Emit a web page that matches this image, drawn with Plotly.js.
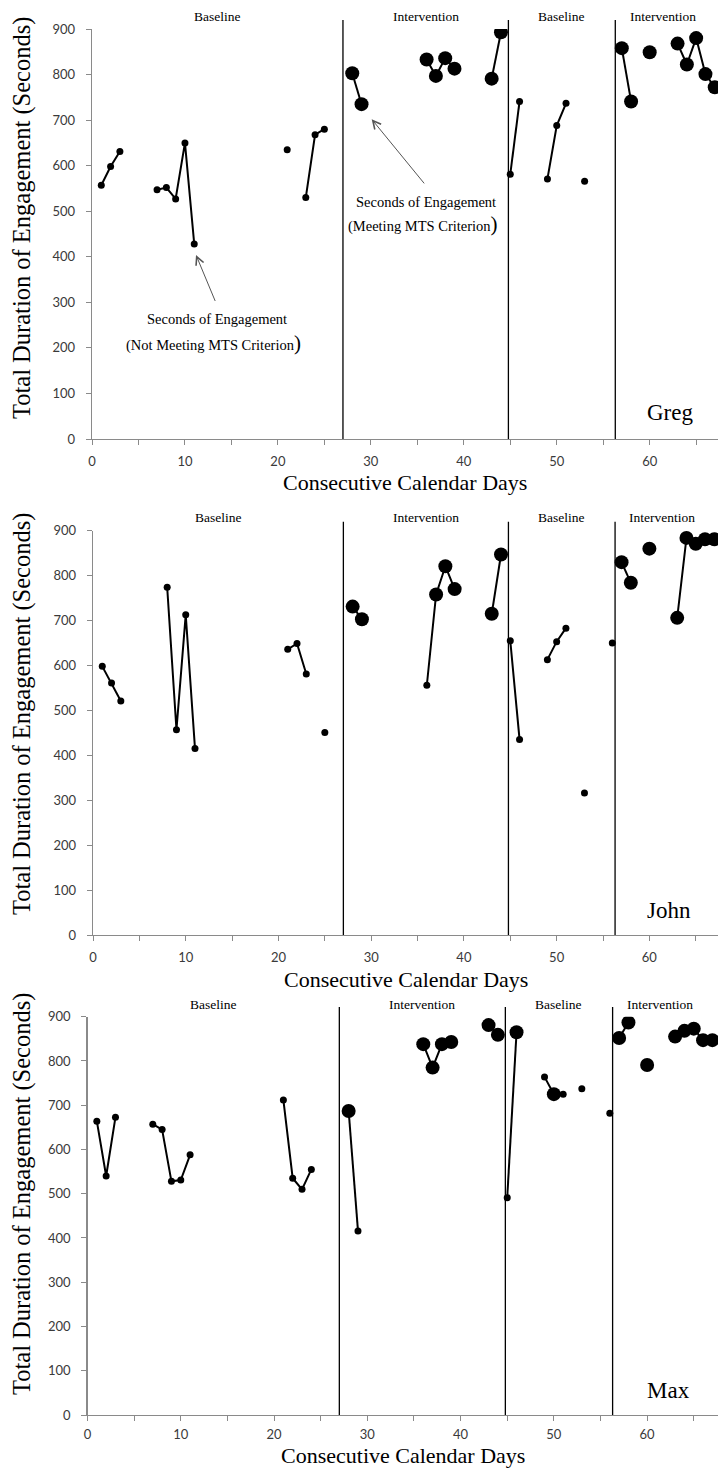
<!DOCTYPE html>
<html><head><meta charset="utf-8">
<script src="https://cdn.plot.ly/plotly-3.0.1.min.js"></script>
<style>html,body{margin:0;padding:0;background:#fff;} #chart{width:718px;height:1469px;}</style>
</head><body><div id="chart"></div>
<script>
// ---- data ----
const students = ['Greg', 'John', 'Max'];

const gregDays    = [1,2,3,7,8,9,10,11,21,23,24,25,28,29,36,37,38,39,43,44,45,46,49,50,51,53,57,58,60,63,64,65,66,67];
const gregSeconds = [557,598,631,547,552,527,650,428,635,530,668,680,803,735,833,797,836,813,791,893,581,741,571,688,737,566,858,741,849,868,822,880,801,772];
const gregMeets   = [0,0,0,0,0,0,0,0,0,0,0,0,1,1,1,1,1,1,1,1,0,0,0,0,0,0,1,1,1,1,1,1,1,1];

const johnDays    = [1,2,3,8,9,10,11,21,22,23,25,28,29,36,37,38,39,43,44,45,46,49,50,51,53,56,57,58,60,63,64,65,66,67];
const johnSeconds = [598,561,521,774,457,713,415,636,649,581,451,731,703,556,758,821,770,715,847,655,435,613,653,683,316,650,830,784,860,706,884,871,881,881];
const johnMeets   = [0,0,0,0,0,0,0,0,0,0,0,1,1,0,1,1,1,1,1,0,0,0,0,0,0,0,1,1,1,1,1,1,1,1];

const maxDays     = [1,2,3,7,8,9,10,11,21,22,23,24,28,29,36,37,38,39,43,44,45,46,49,50,51,53,56,57,58,60,63,64,65,66,67];
const maxSeconds  = [664,540,673,657,645,528,531,588,712,535,510,555,687,416,838,785,838,843,881,859,491,865,764,725,725,737,682,852,887,791,855,868,873,847,847];
const maxMeets    = [0,0,0,0,0,0,0,0,0,0,0,0,1,0,1,1,1,1,1,1,0,1,0,1,0,0,0,1,1,1,1,1,1,1,1];

const phaseChanges = [27, 44.8, 56.3];
const phaseNames = ['Baseline', 'Intervention', 'Baseline', 'Intervention'];
const yTickVals = [0,100,200,300,400,500,600,700,800,900];

const yTitle = 'Total Duration of Engagement (Seconds)';
const xTitle = 'Consecutive Calendar Days';

// ---- layout geometry (pixels) ----
const W = 718, H = 1469;
const px = p => p / W;
const py = p => 1 - p / H;
const geo = [
  {left: 92,   top: 29,    bottom: 439,  xmax: 67.35, phaseTop: 20,    labelY: 17,    nameY: 413, standoff: 5},
  {left: 93,   top: 530.7, bottom: 935,  xmax: 67.4,  phaseTop: 521.7, labelY: 517.7, nameY: 910, standoff: 5},
  {left: 87.5, top: 1016.7,bottom: 1415, xmax: 67.6,  phaseTop: 1007,  labelY: 1004,  nameY: 1390, standoff: 2}
];
const series = [
  {days: gregDays, secs: gregSeconds, meets: gregMeets},
  {days: johnDays, secs: johnSeconds, meets: johnMeets},
  {days: maxDays,  secs: maxSeconds,  meets: maxMeets}
];

const serif = 'Liberation Serif, Times New Roman, serif';
const tickFont = {family: 'Lato, Open Sans, sans-serif', size: 13, color: '#3a3a3a'};
const axisGray = '#8a8a8a';

function phaseOf(d) { return phaseChanges.filter(b => b < d).length; }

const traces = [];
const layout = {
  width: W, height: H,
  margin: {l: 0, r: 0, t: 0, b: 0},
  paper_bgcolor: '#fff', plot_bgcolor: '#fff',
  showlegend: false,
  shapes: [], annotations: []
};

series.forEach((s, i) => {
  const g = geo[i];
  const xa = i === 0 ? 'x' : 'x' + (i + 1);
  const ya = i === 0 ? 'y' : 'y' + (i + 1);
  const xKey = i === 0 ? 'xaxis' : 'xaxis' + (i + 1);
  const yKey = i === 0 ? 'yaxis' : 'yaxis' + (i + 1);
  const x = [], y = [], sz = [];
  s.days.forEach((d, k) => {
    if (k > 0) {
      const prev = s.days[k - 1];
      if (d - prev > 1 || phaseOf(d) !== phaseOf(prev)) { x.push(null); y.push(null); sz.push(0); }
    }
    x.push(d); y.push(s.secs[k]); sz.push(s.meets[k] ? 14 : 7);
  });
  traces.push({
    type: 'scatter', mode: 'lines+markers', x: x, y: y, xaxis: xa, yaxis: ya,
    line: {color: '#000', width: 2},
    marker: {color: '#000', size: sz, opacity: 1, line: {width: 0}},
    connectgaps: false, hoverinfo: 'skip', name: students[i]
  });

  layout[xKey] = {
    domain: [px(g.left), 1], anchor: ya, range: [0, g.xmax],
    showline: true, linecolor: axisGray, linewidth: 1.3,
    ticks: 'outside', ticklen: 5, tickcolor: axisGray, tickwidth: 1,
    tick0: 0, dtick: 10,
    minor: {dtick: 5, ticks: 'outside', ticklen: 5, tickcolor: axisGray, tickwidth: 1},
    showgrid: false, zeroline: false, tickfont: tickFont, ticklabelstandoff: g.standoff
  };
  layout[yKey] = {
    domain: [py(g.bottom), py(g.top)], anchor: xa, range: [0, 900],
    tickvals: yTickVals,
    showline: true, linecolor: axisGray, linewidth: 1.3,
    ticks: 'outside', ticklen: 5, tickcolor: axisGray, tickwidth: 1,
    showgrid: false, zeroline: false, tickfont: tickFont, ticklabelstandoff: 8
  };

  // phase change lines
  phaseChanges.forEach(b => {
    layout.shapes.push({type: 'line', xref: xa, yref: 'paper', x0: b, x1: b,
      y0: py(g.bottom), y1: py(g.phaseTop), line: {color: '#000', width: 1.3}});
  });
  // phase labels
  const bounds = [0].concat(phaseChanges, [66.5]);
  phaseNames.forEach((n, k) => {
    layout.annotations.push({text: n, xref: xa, yref: 'paper',
      x: (bounds[k] + bounds[k + 1]) / 2, y: py(g.labelY), showarrow: false,
      xanchor: 'center', yanchor: 'middle', font: {family: serif, size: 13.5, color: '#000'}});
  });
  // axis titles
  layout.annotations.push({text: yTitle, textangle: -90, xref: 'paper', yref: 'paper',
    x: px(22), y: py(g.bottom - 19 - 202), showarrow: false, xanchor: 'center', yanchor: 'middle',
    font: {family: serif, size: 24.5, color: '#000'}});
  const lastPanel = i === series.length - 1;
  layout.annotations.push({text: xTitle, xref: 'paper', yref: 'paper',
    x: px((g.left + W) / 2), y: lastPanel ? 0 : py(g.bottom + 44), showarrow: false,
    xanchor: 'center', yanchor: lastPanel ? 'bottom' : 'middle', borderpad: 0,
    font: {family: serif, size: 22, color: '#000'}});
  // student name
  layout.annotations.push({text: students[i], xref: 'paper', yref: 'paper',
    x: px(645), y: py(g.nameY), showarrow: false, xanchor: 'left', yanchor: 'middle',
    font: {family: serif, size: 23, color: '#000'}});
});

// explanatory notes in first panel
const noteFont = {family: serif, size: 14.5, color: '#000'};
layout.annotations.push(
  {text: 'Seconds of Engagement', xref: 'x', yref: 'y', x: 13.4, y: 263, showarrow: false, font: noteFont},
  {text: '(Not Meeting MTS Criterion<span style="font-size:21px">)</span>', xref: 'x', yref: 'y', x: 13.1, y: 211, showarrow: false, font: noteFont},
  {text: ' ', xref: 'x', yref: 'y', x: 11.19, y: 404, ax: 20, ay: 48, showarrow: true,
    arrowhead: 5, arrowsize: 1.6, arrowwidth: 1, arrowcolor: '#555', font: {size: 1}},
  {text: 'Seconds of Engagement', xref: 'x', yref: 'y', x: 35.9, y: 521, showarrow: false, font: noteFont},
  {text: '(Meeting MTS Criterion<span style="font-size:21px">)</span>', xref: 'x', yref: 'y', x: 35.56, y: 473, showarrow: false, font: noteFont},
  {text: ' ', xref: 'x', yref: 'y', x: 30.09, y: 702, ax: 54, ay: 66, showarrow: true,
    arrowhead: 5, arrowsize: 1.6, arrowwidth: 1, arrowcolor: '#555', font: {size: 1}}
);

Plotly.newPlot('chart', traces, layout, {staticPlot: true, displayModeBar: false});
</script>
</body></html>
